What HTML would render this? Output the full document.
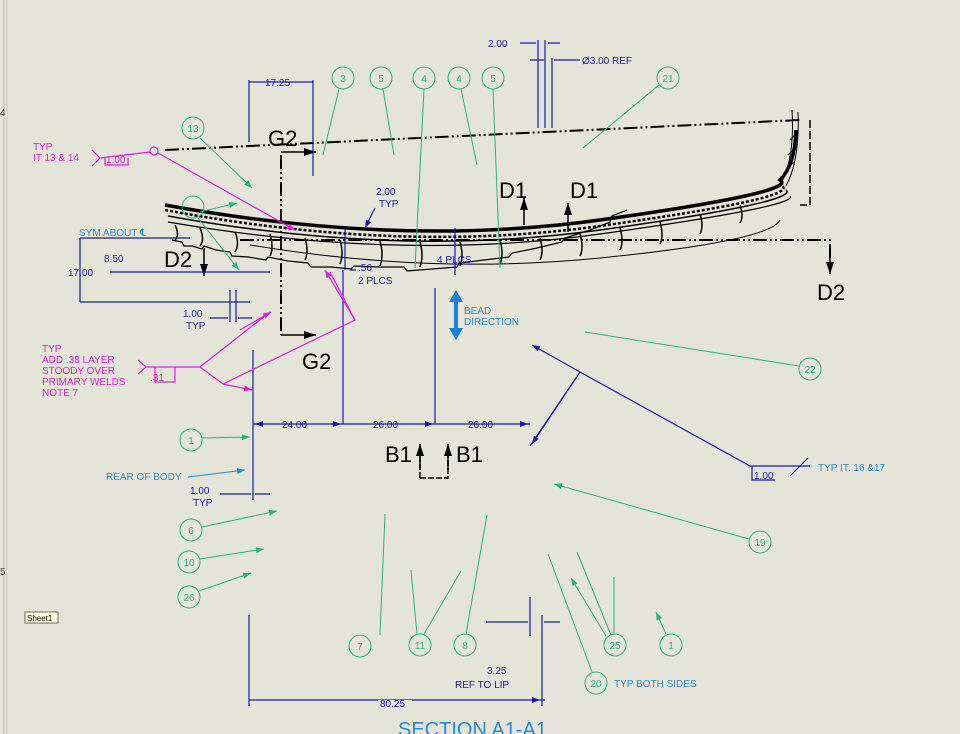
<!DOCTYPE html>
<html><head><meta charset="utf-8"><style>
html,body{margin:0;padding:0;background:#e4e5d8;}
svg{display:block;font-family:"Liberation Sans",sans-serif;}
</style></head><body>
<svg width="960" height="734" viewBox="0 0 960 734" xmlns="http://www.w3.org/2000/svg">
<defs>
<marker id="ab" markerWidth="8" markerHeight="6" refX="8" refY="3" orient="auto" markerUnits="userSpaceOnUse"><path d="M0,0L8,3L0,6z" fill="#1a1ab0"/></marker>
<marker id="ag" markerWidth="8" markerHeight="6" refX="8" refY="3" orient="auto" markerUnits="userSpaceOnUse"><path d="M0,0L8,3L0,6z" fill="#2db37a"/></marker>
<marker id="am" markerWidth="8" markerHeight="6" refX="8" refY="3" orient="auto" markerUnits="userSpaceOnUse"><path d="M0,0L8,3L0,6z" fill="#e020d8"/></marker>
<marker id="ak" markerWidth="12" markerHeight="8" refX="12" refY="4" orient="auto" markerUnits="userSpaceOnUse"><path d="M0,0L12,4L0,8z" fill="#000"/></marker>
<marker id="al" markerWidth="8" markerHeight="6" refX="8" refY="3" orient="auto" markerUnits="userSpaceOnUse"><path d="M0,0L8,3L0,6z" fill="#2a8ad4"/></marker>
</defs>
<rect width="960" height="734" fill="#e4e5d8"/>
<line x1="4" y1="0" x2="4" y2="734" stroke="#b8b8b0"/>
<line x1="7" y1="0" x2="7" y2="734" stroke="#c8c8c0"/>
<text x="0" y="116" font-size="10" fill="#444">4</text>
<text x="0" y="575" font-size="10" fill="#444">5</text>
<rect x="25" y="612" width="33" height="11" fill="#ffffe0" stroke="#444" stroke-width="0.8"/>
<text x="27" y="621" font-size="8" fill="#000">Sheet1</text>

<!-- part body -->
<g fill="none" stroke="#000">
<path d="M165,205 Q400,248 600,220 T780,180 Q795,165 796,130" stroke-width="3.5"/>
<path d="M165,210 Q400,254 600,226 T782,186" stroke-width="2.5" stroke-dasharray="3,2"/>
<path d="M168,216 Q400,258 600,230 T786,190" stroke-width="1.5"/>
<path d="M168,222 Q400,262 600,234 T790,196" stroke-width="1.2"/>
<path d="M172,240 l10,2 l2,4 l8,0 l10,3 l2,-3 l12,4 l14,2 l2,4 l16,1 l18,3 l2,-3 l20,4 l20,2 l3,4 l20,0 l20,2 l3,-3 l25,1 l25,0 l3,4 l25,-2 l25,-2 l2,-4 l25,-3 l25,-3 l3,-4 l25,-5 l25,-6 l3,-4 l25,-8 l20,-8 l2,-6 l15,-6" stroke-width="1.2"/>
<path d="M250,245 Q430,275 600,258 T780,220" stroke-width="1"/>
<path d="M780,185 Q795,160 792,110 M786,186 Q800,160 798,112 M790,140 l8,-8 M788,155 l8,-8 M786,170 l8,-8" stroke-width="1"/>
<path d="M175,225 q5,10 0,15 M200,228 q5,12 0,18 M235,232 q5,12 0,20 M270,234 q4,14 0,22 M305,238 q4,14 0,22 M340,240 q4,14 0,24 M380,241 q4,14 0,25 M420,242 q4,14 0,25 M460,242 q4,14 0,24 M500,240 q4,14 0,24 M540,238 q4,14 0,22 M580,234 q4,14 0,22 M620,228 q4,14 0,22 M660,222 q4,14 0,22 M700,214 q4,12 0,20 M740,205 q4,12 0,18" stroke-width="1.5"/>
</g>
<!-- dash-dot lines -->
<g fill="none" stroke="#000" stroke-width="2" stroke-dasharray="14,3,2,3,2,3">
<path d="M165,150 L800,120"/>
<path d="M240,240 L830,240 L830,258"/>
<path d="M281,155 L281,335"/>
</g>
<path d="M810,120 L810,205 L800,205" fill="none" stroke="#000" stroke-width="1.5" stroke-dasharray="8,3"/>
<line x1="830" y1="250" x2="830" y2="274" stroke="#000" stroke-width="1.5" marker-end="url(#ak)"/>
<line x1="281" y1="152" x2="316" y2="152" stroke="#000" stroke-width="1.5" marker-end="url(#ak)"/>
<line x1="281" y1="335" x2="316" y2="335" stroke="#000" stroke-width="1.5" marker-end="url(#ak)"/>
<line x1="524" y1="225" x2="524" y2="198" stroke="#000" stroke-width="1.5" marker-end="url(#ak)"/>
<line x1="568" y1="232" x2="568" y2="203" stroke="#000" stroke-width="1.5" marker-end="url(#ak)"/>
<line x1="204" y1="248" x2="204" y2="276" stroke="#000" stroke-width="1.5" marker-end="url(#ak)"/>
<path d="M420,478 L420,448 M420,478 L448,478 L448,448" fill="none" stroke="#000" stroke-width="1.5" stroke-dasharray="6,2"/>
<line x1="420" y1="470" x2="420" y2="444" stroke="#000" stroke-width="1.5" marker-end="url(#ak)"/>
<line x1="448" y1="470" x2="448" y2="444" stroke="#000" stroke-width="1.5" marker-end="url(#ak)"/>
<g font-size="22" fill="#000">
<text x="268" y="146">G2</text><text x="302" y="369">G2</text>
<text x="499" y="198">D1</text><text x="570" y="198">D1</text>
<text x="164" y="267">D2</text><text x="817" y="300">D2</text>
<text x="385" y="462">B1</text><text x="456" y="462">B1</text>
</g>

<!-- blue dimensions -->
<g stroke="#1a1ab0" stroke-width="1.2" fill="none">
<path d="M249,80 L249,142 M313,80 L313,176 M249,82 L313,82"/>
<path d="M538,40 L538,128 M545,40 L545,128 M552,58 L552,128 M520,43 L536,43 M560,43 L548,43 M530,60 L544,60 M580,60 L554,60"/>
<path d="M80,238 L190,238 M80,238 L80,302 M80,302 L250,302 M110,272 L270,272 M230,290 L230,322 M236,290 L236,322 M210,318 L228,318 M252,318 L238,318"/>
<path d="M253,350 L253,500 M253,424 L530,424 M343,270 L343,424 M435,288 L435,424 M220,494 L251,494 M270,494 L255,494"/>
<path d="M249,615 L249,706 M249,700 L545,700 M542,615 L542,706 M530,597 L530,636 M486,622 L528,622 M560,622 L544,622"/>
<path d="M345,228 L345,270 M350,270 L356,270 M455,228 L455,275"/>
<path d="M580,372 L530,446 M580,372 L750,466 L810,466 M752,466 L752,480 L775,480"/>
<path d="M800,466 L790,476 M800,466 L808,458"/>
</g>
<line x1="580" y1="372" x2="532" y2="345" stroke="#1a1ab0" stroke-width="1.2" marker-end="url(#ab)"/>
<line x1="580" y1="372" x2="532" y2="444" stroke="#1a1ab0" stroke-width="1.2" marker-end="url(#ab)"/>
<line x1="375" y1="208" x2="365" y2="228" stroke="#1a1ab0" stroke-width="1.2" marker-end="url(#ab)"/>
<line x1="270" y1="424" x2="255" y2="424" stroke="#1a1ab0" marker-end="url(#ab)"/>
<line x1="270" y1="424" x2="341" y2="424" stroke="#1a1ab0" marker-end="url(#ab)"/>
<line x1="360" y1="424" x2="433" y2="424" stroke="#1a1ab0" marker-end="url(#ab)"/>
<line x1="450" y1="424" x2="528" y2="424" stroke="#1a1ab0" marker-end="url(#ab)"/>
<line x1="520" y1="700" x2="540" y2="700" stroke="#1a1ab0" marker-end="url(#ab)"/>
<g font-size="10" fill="#1a1ab0">
<text x="265" y="86">17.25</text>
<text x="488" y="47">2.00</text>
<text x="582" y="64">Ø3.00 REF</text>
<text x="376" y="195">2.00</text><text x="379" y="207">TYP</text>
<text x="358" y="271">.56</text><text x="358" y="284">2 PLCS</text>
<text x="437" y="263">4 PLCS</text>
<text x="104" y="262">8.50</text>
<text x="68" y="276">17.00</text>
<text x="183" y="317">1.00</text><text x="186" y="329">TYP</text>
<text x="282" y="428">24.00</text><text x="373" y="428">26.00</text><text x="468" y="428">26.00</text>
<text x="190" y="494">1.00</text><text x="193" y="506">TYP</text>
<text x="487" y="674">3.25</text><text x="455" y="688">REF TO LIP</text>
<text x="754" y="479">1.00</text>
</g>
<rect x="378" y="700" width="34" height="10" fill="#e4e5d8"/>
<text x="380" y="707" font-size="10" fill="#1a1ab0">80.25</text>

<!-- light-blue labels -->
<g fill="#2a8ad4" font-size="10">
<text x="79" y="236">SYM ABOUT ℄</text>
<text x="464" y="314">BEAD</text><text x="464" y="325">DIRECTION</text>
<text x="106" y="480">REAR OF BODY</text>
<text x="818" y="471">TYP IT. 16 &amp;17</text>
<text x="614" y="687">TYP BOTH SIDES</text>
<text x="398" y="736" font-size="20">SECTION A1-A1</text>
</g>
<line x1="188" y1="477" x2="245" y2="470" stroke="#2a8ad4" marker-end="url(#al)"/>
<path d="M456,290 l-7,12 h5 v26 h-5 l7,12 l7,-12 h-5 v-26 h5z" fill="#1e7fe0"/>

<!-- magenta -->
<g stroke="#e020d8" fill="none" stroke-width="1.2">
<path d="M92,150 L100,158 L92,166 M100,158 L150,152 M105,158 L105,165 L128,165 L128,158"/>
<circle cx="154" cy="151" r="4"/>
<path d="M138,360 L146,367 L138,374 M146,367 L200,367 M155,367 L155,382 L175,382 L175,367 M200,367 L223,384 M200,367 L270,312"/>
<path d="M223,384 L355,320 L330,272"/>
</g>
<line x1="158" y1="153" x2="295" y2="230" stroke="#e020d8" stroke-width="1.2" marker-end="url(#am)"/>
<line x1="223" y1="384" x2="252" y2="390" stroke="#e020d8" stroke-width="1.2" marker-end="url(#am)"/>
<line x1="355" y1="320" x2="325" y2="270" stroke="#e020d8" stroke-width="1.2" marker-end="url(#am)"/>
<line x1="240" y1="330" x2="271" y2="312" stroke="#e020d8" stroke-width="1.2" marker-end="url(#am)"/>
<g fill="#e020d8" font-size="10">
<text x="33" y="150">TYP</text><text x="33" y="161">IT 13 &amp; 14</text>
<text x="106" y="163">1.00</text>
<text x="42" y="352">TYP</text><text x="42" y="363">ADD .38 LAYER</text>
<text x="42" y="374">STOODY OVER</text><text x="42" y="385">PRIMARY WELDS</text><text x="42" y="396">NOTE 7</text>
<text x="150" y="381">.31</text>
</g>

<!-- green balloons -->
<g stroke="#2db37a" stroke-width="1" fill="none">
<circle cx="193" cy="128" r="11"/><circle cx="343" cy="78" r="11"/><circle cx="381" cy="78" r="11"/>
<circle cx="424" cy="78" r="11"/><circle cx="459" cy="78" r="11"/><circle cx="493" cy="78" r="11"/>
<circle cx="668" cy="78" r="11"/><circle cx="810" cy="369" r="11"/><circle cx="760" cy="542" r="11"/>
<circle cx="191" cy="440" r="11"/><circle cx="191" cy="530" r="11"/><circle cx="189" cy="562" r="11"/>
<circle cx="189" cy="597" r="11"/><circle cx="360" cy="646" r="11"/><circle cx="420" cy="645" r="11"/>
<circle cx="465" cy="645" r="11"/><circle cx="596" cy="683" r="11"/><circle cx="615" cy="645" r="11"/>
<circle cx="671" cy="645" r="11"/><circle cx="193" cy="207" r="11"/>
</g>
<g stroke="#2db37a" stroke-width="1" fill="none">
<line x1="339" y1="89" x2="323" y2="155"/><line x1="383" y1="89" x2="394" y2="155"/>
<line x1="424" y1="89" x2="415" y2="268"/><line x1="461" y1="89" x2="477" y2="165"/>
<line x1="493" y1="89" x2="500" y2="268"/><line x1="659" y1="85" x2="583" y2="148"/>
<line x1="799" y1="366" x2="585" y2="332"/>
<line x1="380" y1="635" x2="385" y2="514"/><line x1="417" y1="634" x2="411" y2="570"/>
<line x1="424" y1="634" x2="461" y2="571"/><line x1="466" y1="634" x2="487" y2="515"/>
<line x1="592" y1="672" x2="548" y2="554"/><line x1="611" y1="635" x2="577" y2="552"/>
<line x1="614" y1="634" x2="614" y2="577"/>
</g>
<g stroke="#2db37a" stroke-width="1" fill="none">
<line x1="200" y1="138" x2="252" y2="188" marker-end="url(#ag)"/>
<line x1="202" y1="438" x2="250" y2="437" marker-end="url(#ag)"/>
<line x1="202" y1="527" x2="277" y2="511" marker-end="url(#ag)"/>
<line x1="200" y1="559" x2="264" y2="549" marker-end="url(#ag)"/>
<line x1="199" y1="591" x2="251" y2="573" marker-end="url(#ag)"/>
<line x1="749" y1="539" x2="554" y2="484" marker-end="url(#ag)"/>
<line x1="606" y1="636" x2="571" y2="578" marker-end="url(#ag)"/>
<line x1="666" y1="634" x2="656" y2="612" marker-end="url(#ag)"/>
<line x1="200" y1="212" x2="237" y2="203" marker-end="url(#ag)"/>
<line x1="198" y1="218" x2="239" y2="270" marker-end="url(#ag)"/>
</g>
<g fill="#2db37a" font-size="10" text-anchor="middle">
<text x="193" y="132">13</text><text x="343" y="82">3</text><text x="381" y="82">5</text>
<text x="424" y="82">4</text><text x="459" y="82">4</text><text x="493" y="82">5</text>
<text x="668" y="82">21</text><text x="810" y="373">22</text><text x="760" y="546">19</text>
<text x="191" y="444">1</text><text x="191" y="534">6</text><text x="189" y="566">10</text>
<text x="189" y="601">26</text><text x="360" y="650">7</text><text x="420" y="649">11</text>
<text x="465" y="649">8</text><text x="596" y="687">20</text><text x="615" y="649">25</text>
<text x="671" y="649">1</text>
</g>
</svg>
</body></html>
